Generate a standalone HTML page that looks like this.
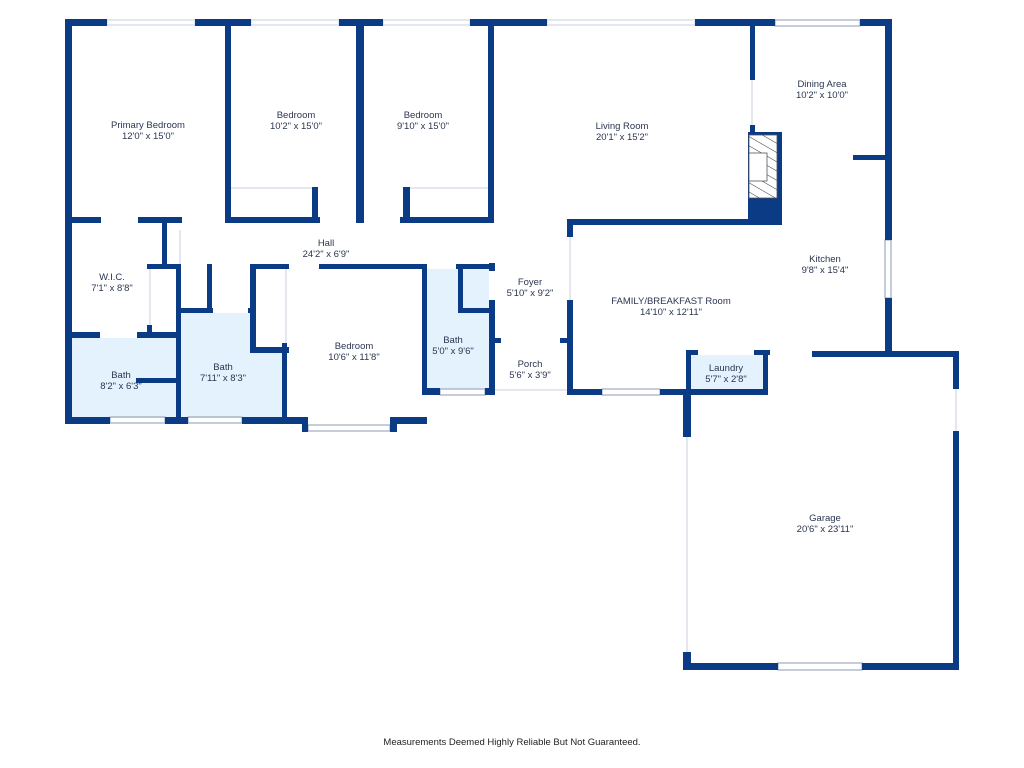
<!DOCTYPE html>
<html><head><meta charset="utf-8"><style>
html,body{margin:0;padding:0;background:#fff;}
svg{display:block}
text{font-family:"Liberation Sans",sans-serif;font-size:9.5px;fill:#2a3550;text-anchor:middle}
</style></head><body>
<svg width="1024" height="768" viewBox="0 0 1024 768" xmlns="http://www.w3.org/2000/svg">
<defs><pattern id="h" width="8" height="8" patternUnits="userSpaceOnUse" patternTransform="rotate(-60)"><rect width="8" height="8" fill="#fff"/><line x1="0" y1="0" x2="0" y2="8" stroke="#333" stroke-width="1"/></pattern></defs>
<!-- blue fills -->
<g fill="#e3f2fd">
<rect x="71" y="338" width="106" height="80"/>
<rect x="181" y="313" width="70" height="105"/>
<rect x="250" y="350" width="33" height="68"/>
<rect x="427" y="269" width="62" height="120"/>
<rect x="691" y="355" width="72" height="34"/>
</g>
<!-- window / thin lines -->
<g fill="none" stroke="#c8d2de" stroke-width="1">
<rect x="107" y="20" width="88" height="5"/><rect x="251" y="20" width="88" height="5"/><rect x="383" y="20" width="87" height="5"/>
<rect x="547" y="20" width="148" height="5"/>
<rect x="110" y="417" width="55" height="6" stroke="#8a9bb3"/><rect x="188" y="417" width="54" height="6" stroke="#8a9bb3"/>
<rect x="308" y="425" width="82" height="6" stroke="#8a9bb3"/><rect x="440" y="389" width="45" height="6" stroke="#8a9bb3"/>
<rect x="602" y="389" width="58" height="6" stroke="#8a9bb3"/><rect x="778" y="663" width="84" height="7" stroke="#8a9bb3"/>
<rect x="775" y="20" width="85" height="6" stroke="#8a9bb3"/><rect x="885" y="240" width="6" height="58" stroke="#8a9bb3"/>
<line x1="687" y1="437" x2="687" y2="652"/><line x1="956" y1="389" x2="956" y2="431"/>
<line x1="495" y1="390" x2="567" y2="390"/><line x1="230" y1="188" x2="312" y2="188"/><line x1="410" y1="188" x2="489" y2="188"/>
<line x1="752" y1="80" x2="752" y2="125"/><line x1="570" y1="237" x2="570" y2="300"/><line x1="150" y1="269" x2="150" y2="333"/>
<line x1="286" y1="269" x2="286" y2="343"/><line x1="180" y1="230" x2="180" y2="264"/>
</g>
<g fill="#0b3b84">
<rect x="65" y="19" width="42" height="7"/><rect x="195" y="19" width="56" height="7"/><rect x="339" y="19" width="44" height="7"/>
<rect x="470" y="19" width="77" height="7"/><rect x="695" y="19" width="80" height="7"/><rect x="860" y="19" width="32" height="7"/>
<rect x="65" y="19" width="7" height="405"/>
<rect x="225" y="19" width="6" height="204"/><rect x="356" y="19" width="8" height="204"/><rect x="488" y="19" width="6" height="204"/>
<rect x="65" y="217" width="36" height="6"/><rect x="138" y="217" width="44" height="6"/>
<rect x="225" y="217" width="95" height="6"/><rect x="312" y="187" width="6" height="36"/>
<rect x="356" y="217" width="8" height="6"/><rect x="400" y="217" width="93" height="6"/><rect x="403" y="187" width="7" height="36"/>
<rect x="162" y="217" width="5" height="50"/><rect x="147" y="264" width="33" height="5"/>
<rect x="65" y="332" width="35" height="6"/><rect x="137" y="332" width="44" height="6"/><rect x="147" y="325" width="5" height="12"/>
<rect x="176" y="264" width="5" height="160"/>
<rect x="207" y="264" width="5" height="49"/><rect x="176" y="308" width="37" height="5"/><rect x="248" y="308" width="5" height="5"/>
<rect x="136" y="378" width="42" height="5"/>
<rect x="250" y="264" width="39" height="5"/><rect x="319" y="264" width="108" height="5"/>
<rect x="250" y="264" width="6" height="89"/><rect x="250" y="347" width="39" height="6"/><rect x="282" y="343" width="5" height="81"/>
<rect x="422" y="264" width="5" height="131"/>
<rect x="456" y="264" width="38" height="5"/><rect x="458" y="264" width="5" height="49"/><rect x="458" y="308" width="36" height="5"/>
<rect x="489" y="263" width="6" height="8"/><rect x="489" y="300" width="6" height="95"/>
<rect x="422" y="388" width="18" height="7"/><rect x="485" y="388" width="10" height="7"/>
<rect x="495" y="338" width="6" height="5"/><rect x="560" y="338" width="8" height="5"/>
<rect x="65" y="417" width="45" height="7"/><rect x="165" y="417" width="23" height="7"/><rect x="242" y="417" width="66" height="7"/>
<rect x="302" y="417" width="6" height="15"/><rect x="390" y="417" width="37" height="7"/><rect x="390" y="417" width="7" height="15"/>
<rect x="567" y="219" width="215" height="6"/><rect x="567" y="219" width="6" height="18"/><rect x="567" y="300" width="6" height="95"/>
<rect x="567" y="389" width="35" height="6"/><rect x="660" y="389" width="108" height="6"/>
<rect x="750" y="19" width="5" height="61"/>
<rect x="750" y="125" width="5" height="8"/>
<rect x="748" y="132" width="34" height="93"/>
<rect x="885" y="19" width="7" height="221"/><rect x="885" y="298" width="7" height="59"/><rect x="853" y="155" width="32" height="5"/>
<rect x="686" y="350" width="12" height="5"/><rect x="754" y="350" width="16" height="5"/><rect x="763" y="350" width="5" height="45"/>
<rect x="686" y="350" width="5" height="87"/>
<rect x="812" y="351" width="147" height="6"/><rect x="953" y="351" width="6" height="38"/><rect x="953" y="431" width="6" height="239"/>
<rect x="683" y="390" width="8" height="47"/><rect x="683" y="652" width="8" height="18"/>
<rect x="683" y="663" width="95" height="7"/><rect x="862" y="663" width="97" height="7"/>
</g>
<!-- fireplace -->
<rect x="749" y="135" width="28" height="63" fill="url(#h)" stroke="#555" stroke-width="0.8"/>
<rect x="749" y="153" width="18" height="28" fill="#fff" stroke="#555" stroke-width="0.8"/>
<!-- labels -->
<text x="148" y="128">Primary Bedroom</text><text x="148" y="139">12'0" x 15'0"</text>
<text x="296" y="118">Bedroom</text><text x="296" y="129">10'2" x 15'0"</text>
<text x="423" y="118">Bedroom</text><text x="423" y="129">9'10" x 15'0"</text>
<text x="622" y="129">Living Room</text><text x="622" y="140">20'1" x 15'2"</text>
<text x="822" y="87">Dining Area</text><text x="822" y="98">10'2" x 10'0"</text>
<text x="326" y="246">Hall</text><text x="326" y="257">24'2" x 6'9"</text>
<text x="112" y="280">W.I.C.</text><text x="112" y="291">7'1" x 8'8"</text>
<text x="530" y="285">Foyer</text><text x="530" y="296">5'10" x 9'2"</text>
<text x="671" y="304">FAMILY/BREAKFAST Room</text><text x="671" y="315">14'10" x 12'11"</text>
<text x="825" y="262">Kitchen</text><text x="825" y="273">9'8" x 15'4"</text>
<text x="354" y="349">Bedroom</text><text x="354" y="360">10'6" x 11'8"</text>
<text x="453" y="343">Bath</text><text x="453" y="354">5'0" x 9'6"</text>
<text x="121" y="378">Bath</text><text x="121" y="389">8'2" x 6'3"</text>
<text x="223" y="370">Bath</text><text x="223" y="381">7'11" x 8'3"</text>
<text x="530" y="367">Porch</text><text x="530" y="378">5'6" x 3'9"</text>
<text x="726" y="371">Laundry</text><text x="726" y="382">5'7" x 2'8"</text>
<text x="825" y="521">Garage</text><text x="825" y="532">20'6" x 23'11"</text>
<text x="512" y="745" style="fill:#222">Measurements Deemed Highly Reliable But Not Guaranteed.</text>
</svg>
</body></html>
